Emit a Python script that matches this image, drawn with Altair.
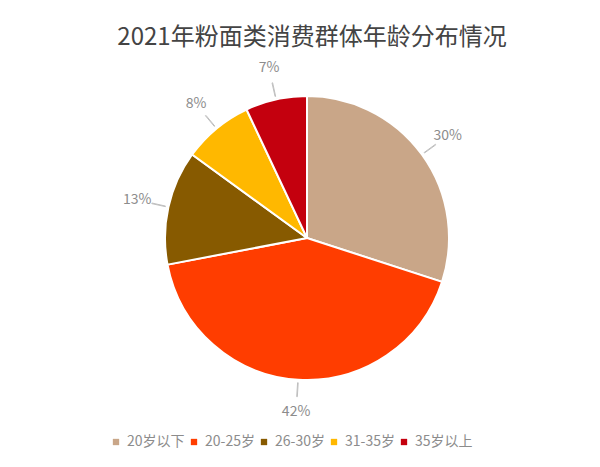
import math
import altair as alt
import pandas as pd

title_text = "2021年粉面类消费群体年龄分布情况"
categories = ["20岁以下", "20-25岁", "26-30岁", "31-35岁", "35岁以上"]
shares = [30, 42, 13, 8, 7]
colors = ["#C9A688", "#FF3D00", "#875A00", "#FFB800", "#C4000E"]

df = pd.DataFrame({"cat": categories, "share": shares, "idx": list(range(len(categories)))})
df["label"] = df["share"].astype(str) + "%"
total = df["share"].sum()
cum = df["share"].cumsum()
df["mid"] = (cum - df["share"] / 2) / total * 2 * math.pi
df["m0"] = df["mid"] - 0.002
df["m1"] = df["mid"] + 0.002

CX, CY = 299, 230
R = 142
FONT = "Noto Sans CJK SC"

color = alt.Color(
    "cat:N",
    scale=alt.Scale(domain=categories, range=colors),
    legend=alt.Legend(
        title=None, orient="none", legendX=101, legendY=427,
        direction="horizontal", symbolType="square", symbolSize=40,
        symbolStrokeWidth=0, labelFontSize=14, labelColor="#8c8c8c",
        labelFont=FONT, columnPadding=2, labelOffset=4,
    ),
)

pie = alt.Chart(df).mark_arc(outerRadius=R, stroke="white", strokeWidth=2).encode(
    theta=alt.Theta("share:Q", stack=True),
    order=alt.Order("idx:Q"),
    color=color,
    x=alt.value(CX), y=alt.value(CY),
)

lines = alt.Chart(df).mark_arc(
    innerRadius=R + 3, outerRadius=R + 17, stroke="#bfbfbf", strokeWidth=1, fillOpacity=0
).encode(
    theta=alt.Theta("m0:Q", scale=None, stack=None),
    theta2="m1:Q",
    x=alt.value(CX), y=alt.value(CY),
)

labels = alt.Chart(df).mark_text(radius=R + 32, fontSize=14, font=FONT, color="#8c8c8c").encode(
    theta=alt.Theta("share:Q", stack=True),
    order=alt.Order("idx:Q"),
    text="label:N",
    x=alt.value(CX), y=alt.value(CY),
)

title = alt.Chart(pd.DataFrame({"t": [title_text]})).mark_text(
    fontSize=24, font=FONT, color="#444444", fontWeight="normal"
).encode(text="t:N", x=alt.value(304), y=alt.value(30))

chart = alt.layer(pie, lines, labels, title).properties(
    width=584, height=451, autosize=alt.AutoSizeParams(type="none"), padding=0,
    background="white",
).configure_view(stroke=None)

chart.save("out.html", embed_options={"renderer": "svg", "actions": False})
